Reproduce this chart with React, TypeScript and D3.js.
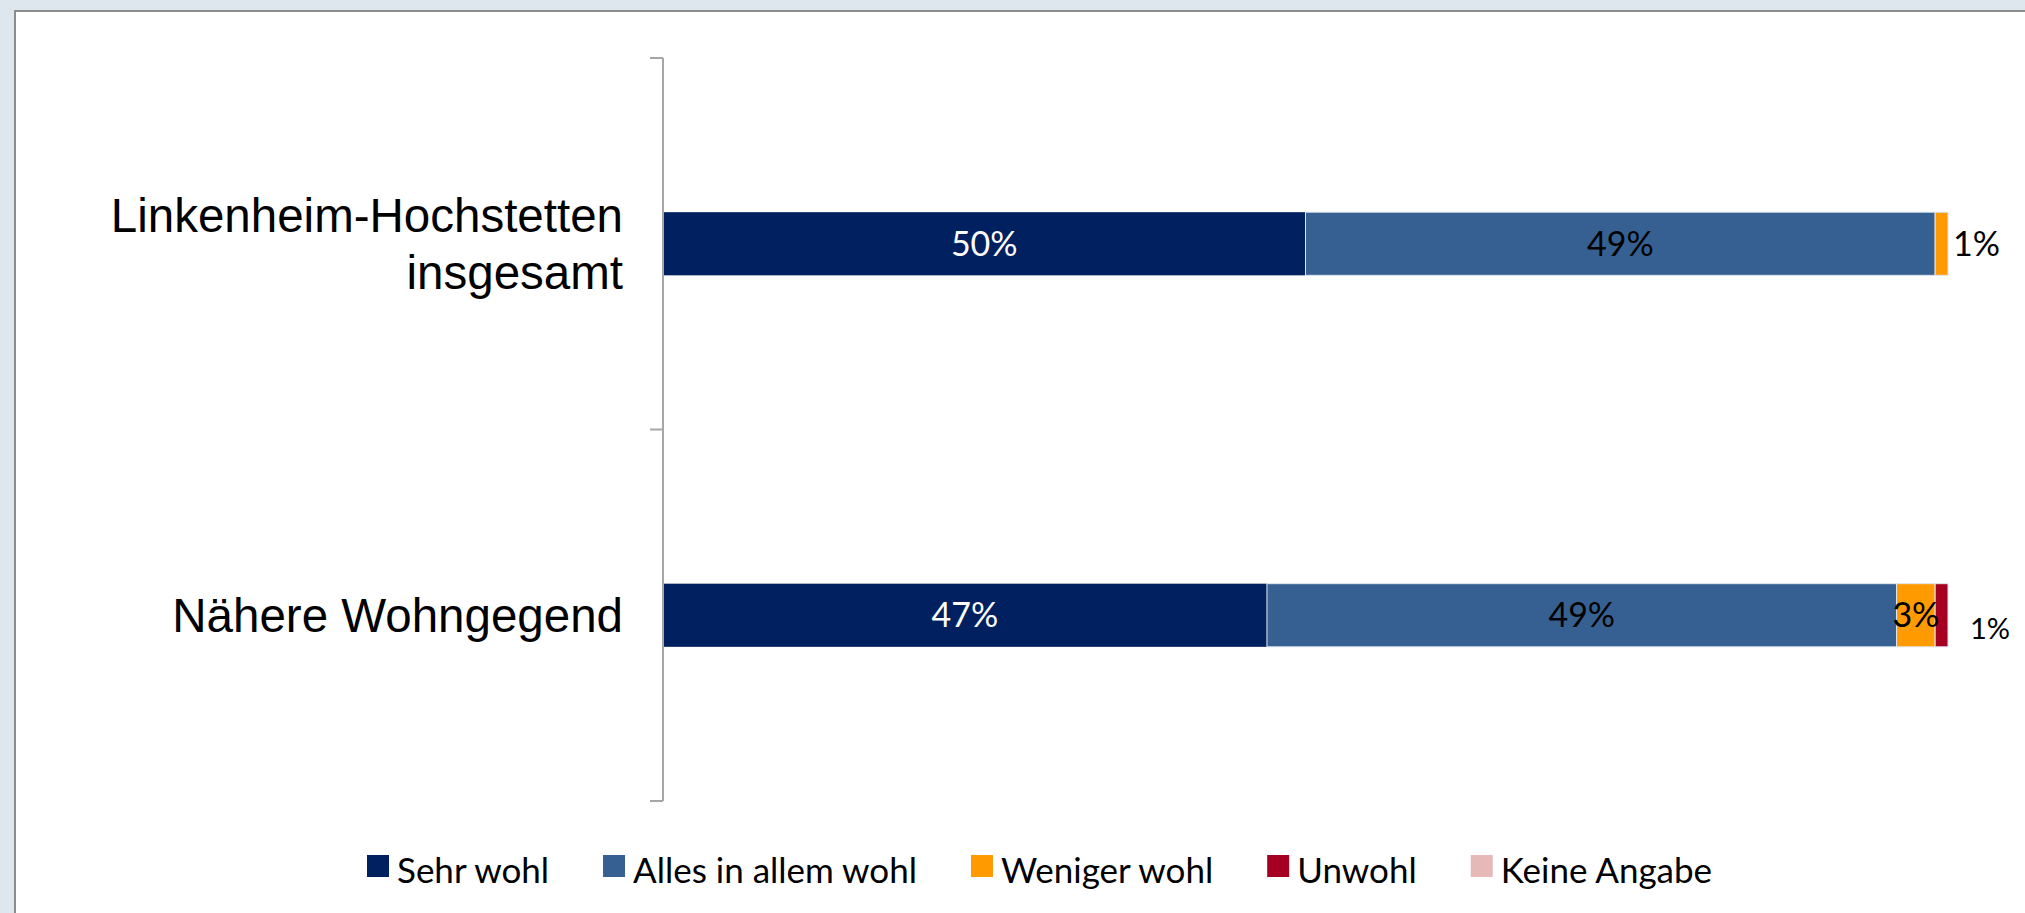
import React, { useEffect, useRef } from "react";
import * as d3 from "d3";

// ---- data ----
const categories = ["Linkenheim-Hochstetten insgesamt", "Nähere Wohngegend"];
const categoryLines = [["Linkenheim-Hochstetten", "insgesamt"], ["Nähere Wohngegend"]];
const seriesNames = ["Sehr wohl", "Alles in allem wohl", "Weniger wohl", "Unwohl", "Keine Angabe"];
const sehrWohl = [50, 47];
const allesInAllemWohl = [49, 49];
const wenigerWohl = [1, 3];
const unwohl = [0, 1];
const keineAngabe = [0, 0];
const seriesColors = ["#002060", "#376092", "#ff9a00", "#a50021", "#e6b9b8"];
const labelColors = ["#ffffff", "#000000", "#000000", "#000000", "#000000"];

const W = 2025;
const H = 913;

export default function App() {
  const ref = useRef<SVGSVGElement | null>(null);

  useEffect(() => {
    document.body.style.margin = "0";
    const svg = d3.select(ref.current);
    svg.selectAll("*").remove();

    // background + frame
    svg.append("rect").attr("x", 0).attr("y", 0).attr("width", W).attr("height", H).attr("fill", "#dee6ee");
    svg.append("rect").attr("x", 15).attr("y", 11).attr("width", W + 20).attr("height", H + 20)
      .attr("fill", "#ffffff").attr("stroke", "#8c8c8c").attr("stroke-width", 2);

    const values = [sehrWohl, allesInAllemWohl, wenigerWohl, unwohl, keineAngabe];
    const rows = categories.map((c, i) => {
      const r: any = { cat: c };
      seriesNames.forEach((s, j) => (r[s] = values[j][i]));
      return r;
    });
    const stacked = d3.stack().keys(seriesNames)(rows);

    const x = d3.scaleLinear().domain([0, 100]).range([663, 1948]);
    const y = d3.scaleBand().domain(categories).range([58, 801]).paddingInner(0.83).paddingOuter(0.415);
    const step = y.step();

    // bars
    const g = svg.append("g");
    stacked.forEach((layer, si) => {
      g.selectAll(null)
        .data(layer)
        .enter()
        .append("rect")
        .attr("x", (d: any) => x(d[0]))
        .attr("y", (d: any) => y(d.data.cat)!)
        .attr("width", (d: any) => Math.max(0, x(d[1]) - x(d[0])))
        .attr("height", y.bandwidth())
        .attr("fill", seriesColors[si])
        .attr("stroke", si === 0 ? "none" : "#dfe7f1")
        .attr("stroke-width", si === 0 ? 0 : 1)
        .style("display", (d: any) => (d[1] - d[0] > 0 ? null : "none"));
    });

    // axis
    const axisX = x(0);
    const ax = svg.append("g").attr("stroke", "#a6a6a6").attr("stroke-width", 2);
    ax.append("line").attr("x1", axisX).attr("x2", axisX).attr("y1", 58).attr("y2", 801);
    const tickYs = [y(categories[0])! - (step - y.bandwidth()) / 2, ...categories.map((c) => y(c)! + y.bandwidth() + (step - y.bandwidth()) / 2)];
    tickYs.forEach((ty) => {
      ax.append("line").attr("x1", axisX - 13).attr("x2", axisX).attr("y1", ty).attr("y2", ty);
    });

    // category labels
    categories.forEach((c, i) => {
      const lines = categoryLines[i];
      const cy = y(c)! + y.bandwidth() / 2;
      const lh = 57;
      const first = cy + 17 - ((lines.length - 1) * lh) / 2;
      const t = svg.append("text")
        .attr("text-anchor", "end")
        .attr("font-family", "'Liberation Sans', Arial, sans-serif")
        .attr("font-size", 47.5)
        .attr("fill", "#000");
      lines.forEach((ln, k) => {
        t.append("tspan").attr("x", axisX - 40).attr("y", first + k * lh).text(ln);
      });
    });

    // data labels
    const outsideOffset = [5, 22];
    stacked.forEach((layer, si) => {
      layer.forEach((d: any) => {
        const v = d[1] - d[0];
        if (v <= 0) return;
        const cy = y(d.data.cat)! + y.bandwidth() / 2;
        const segW = x(d[1]) - x(d[0]);
        let tx: number, anchor: string, size = 34, dy = 12;
        if (segW > 30) {
          tx = (x(d[0]) + x(d[1])) / 2;
          anchor = "middle";
        } else if (d[1] >= 99.5 && si === 2) {
          tx = x(d[1]) + outsideOffset[0];
          anchor = "start";
        } else {
          tx = x(100) + outsideOffset[1];
          anchor = "start";
          size = 29;
          dy = 24;
        }
        svg.append("text")
          .attr("x", tx)
          .attr("y", cy + dy)
          .attr("text-anchor", anchor)
          .attr("font-family", "Lato, 'Open Sans', sans-serif")
          .attr("font-size", size)
          .attr("fill", labelColors[si])
          .text(`${v}%`);
      });
    });

    // legend
    const lg = svg.append("g").attr("font-family", "Lato, 'Open Sans', sans-serif").attr("font-size", 35);
    let lx = 367;
    seriesNames.forEach((s, i) => {
      lg.append("rect").attr("x", lx).attr("y", 855).attr("width", 22).attr("height", 22).attr("fill", seriesColors[i]);
      const t = lg.append("text").attr("x", lx + 30).attr("y", 883).attr("fill", "#000").text(s);
      const w = (t.node() as SVGTextElement).getComputedTextLength();
      lx = lx + 30 + w + 54;
    });
  }, []);

  return <svg ref={ref} width={W} height={H} style={{ display: "block" }} />;
}
